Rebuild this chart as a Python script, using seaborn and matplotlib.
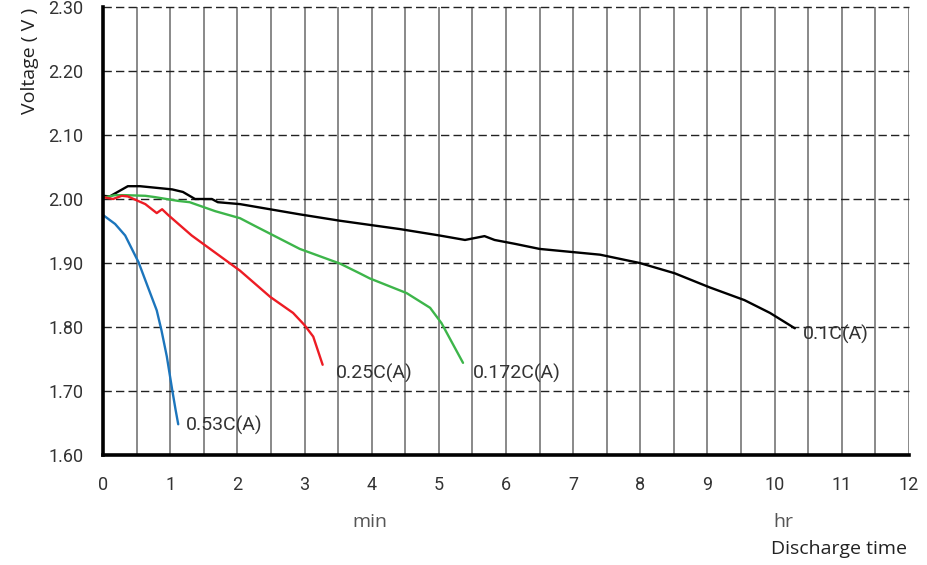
import numpy as np
import pandas as pd
import matplotlib
matplotlib.use("Agg")
from matplotlib import pyplot as plt
from matplotlib.ticker import MultipleLocator
import seaborn as sns

# discharge curves (x = discharge time, y = voltage)
rate_labels = ["0.1C(A)", "0.172C(A)", "0.25C(A)", "0.53C(A)"]

t_01 = [0, 0.1, 0.37, 0.55, 1.03, 1.19, 1.37, 1.62, 1.71, 2.04, 2.93, 3.53, 4.42, 5.01,
        5.39, 5.68, 5.83, 6.13, 6.5, 7.4, 7.99, 8.51, 9.03, 9.55, 9.93, 10.3]
v_01 = [2.005, 2.004, 2.02, 2.02, 2.015, 2.011, 2.0, 2.0, 1.995, 1.992, 1.976, 1.966, 1.953, 1.943,
        1.936, 1.942, 1.936, 1.93, 1.922, 1.913, 1.9, 1.884, 1.862, 1.842, 1.822, 1.798]

t_0172 = [0, 0.18, 0.33, 0.63, 0.77, 1.12, 1.29, 1.67, 2.04, 2.26, 2.93, 3.53, 3.82, 3.97,
          4.52, 4.87, 5.04, 5.36]
v_0172 = [2.002, 2.006, 2.006, 2.005, 2.003, 1.997, 1.995, 1.981, 1.97, 1.958, 1.922, 1.899, 1.884, 1.876,
          1.853, 1.83, 1.806, 1.744]

t_025 = [0, 0.15, 0.28, 0.37, 0.63, 0.8, 0.88, 0.97, 1.32, 2.04, 2.49, 2.83, 3.0, 3.13, 3.27]
v_025 = [2.003, 2.0, 2.005, 2.004, 1.992, 1.978, 1.984, 1.975, 1.943, 1.888, 1.847, 1.822, 1.803, 1.785, 1.741]

t_053 = [0, 0.18, 0.33, 0.53, 0.67, 0.8, 0.87, 0.95, 1.03, 1.08, 1.12]
v_053 = [1.975, 1.961, 1.943, 1.901, 1.862, 1.826, 1.795, 1.754, 1.702, 1.671, 1.648]

colors = ["#000000", "#3DB54A", "#ED1C24", "#1C75BC"]

frames = []
for lab, t, v in zip(rate_labels, [t_01, t_0172, t_025, t_053], [v_01, v_0172, v_025, v_053]):
    frames.append(pd.DataFrame({"time": t, "voltage": v, "rate": lab}))
df = pd.concat(frames, ignore_index=True)

sns.set_style("white")
plt.rcParams["font.family"] = ["Roboto", "DejaVu Sans"]

fig = plt.figure(figsize=(9.27, 5.65), dpi=100)
ax = fig.add_axes([103 / 927, 1 - 455 / 565, (909 - 103) / 927, (455 - 7) / 565])

sns.lineplot(data=df, x="time", y="voltage", hue="rate", palette=dict(zip(rate_labels, colors)),
             sort=False, estimator=None, linewidth=1.7, legend=False, ax=ax, zorder=3)

ax.set_xlim(0, 12)
ax.set_ylim(1.60, 2.30)
ax.xaxis.set_major_locator(MultipleLocator(1))
ax.xaxis.set_minor_locator(MultipleLocator(0.5))
ax.yaxis.set_major_locator(MultipleLocator(0.1))
ax.yaxis.set_major_formatter(matplotlib.ticker.FormatStrFormatter("%.2f"))

# vertical solid grid every 0.5, horizontal dashed grid every 0.1
ax.grid(False)
for xv in np.arange(0.5, 12.01, 0.5):
    ax.axvline(xv, color="#808080", linewidth=1.3, zorder=1)
for yv in np.arange(1.70, 2.31, 0.1):
    ax.axhline(yv, color="#222222", linewidth=1.0, linestyle=(0, (6, 3)), zorder=1, clip_on=False)

for s in ["top", "right"]:
    ax.spines[s].set_visible(False)
for s in ["left", "bottom"]:
    ax.spines[s].set_linewidth(2.6)
    ax.spines[s].set_color("black")
    ax.spines[s].set_zorder(4)

ax.tick_params(axis="both", which="both", length=0, labelsize=13, labelcolor="#333333")
ax.tick_params(axis="x", pad=15)
ax.tick_params(axis="y", pad=14)
ax.set_xlabel("")
ax.set_ylabel("")

# curve end labels
lab_kw = dict(fontsize=14, color="#333333", va="center", ha="left")
ax.text(10.42, 1.788, "0.1C(A)", **lab_kw)
ax.text(5.5, 1.728, "0.172C(A)", **lab_kw)
ax.text(3.47, 1.728, "0.25C(A)", **lab_kw)
ax.text(1.24, 1.646, "0.53C(A)", **lab_kw)

side_font = ["Open Sans", "DejaVu Sans"]
fig.text(30 / 927, 1 - 61 / 565, "Voltage ( V )", rotation=90, ha="center", va="center",
         fontsize=14, color="#222222", family=side_font)
fig.text(370 / 927, 1 - 522 / 565, "min", ha="center", va="center",
         fontsize=14, color="#555555", family=side_font)
fig.text(783 / 927, 1 - 522 / 565, "hr", ha="center", va="center",
         fontsize=14, color="#555555", family=side_font)
fig.text(907 / 927, 1 - 549 / 565, "Discharge time", ha="right", va="center",
         fontsize=14, color="#222222", family=side_font)

fig.savefig("out.png", dpi=100)
